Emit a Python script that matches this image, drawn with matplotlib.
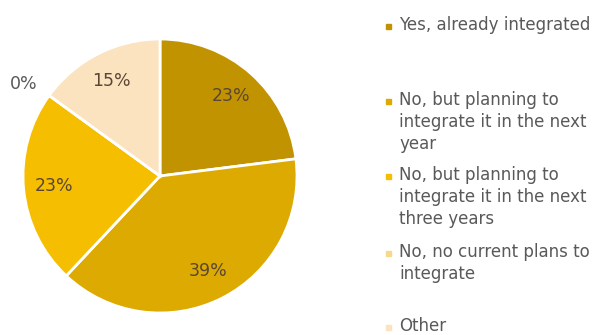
import numpy as np
import matplotlib
matplotlib.use('Agg')
import matplotlib.pyplot as plt
from matplotlib.patches import Rectangle

# data
labels = ['Yes, already integrated',
          'No, but planning to\nintegrate it in the next\nyear',
          'No, but planning to\nintegrate it in the next\nthree years',
          'No, no current plans to\nintegrate',
          'Other']
values = [23, 39, 23, 0, 15]
colors = ['#C29300', '#DCAA00', '#F6BE00', '#F8D98C', '#FBE3BF']

W, H = 605, 335
fig = plt.figure(figsize=(W / 100, H / 100), dpi=100)

# pie: center ~ (160,176) px, radius ~137 px
r_px = 137
cx, cy = 160, 176
ax = fig.add_axes([(cx - r_px) / W, (H - cy - r_px) / H, 2 * r_px / W, 2 * r_px / H])
wedges, _ = ax.pie(values, colors=colors, startangle=90, counterclock=False,
                   wedgeprops=dict(edgecolor='white', linewidth=2))
ax.set_xlim(-1, 1)
ax.set_ylim(-1, 1)
ax.set_aspect('equal')
ax.axis('off')

for w, v in zip(wedges, values):
    theta = np.deg2rad((w.theta1 + w.theta2) / 2)
    if v == 0:
        d = 1.2
        theta = np.deg2rad(w.theta1 + 2)
        col = '#595959'
    else:
        d = 0.78
        col = '#5a4636'
    ax.text(d * np.cos(theta), d * np.sin(theta), '%d%%' % v,
            ha='center', va='center', fontsize=12.5, color=col, clip_on=False)

# legend drawn by hand
text_x = 399 / W
mark_x = 386 / W
tops = [26, 101, 176, 253, 327]
for lab, c, y in zip(labels, colors, tops):
    fig.text(text_x, 1 - (y - 10) / H, lab, ha='left', va='top', fontsize=12,
             color='#595959', linespacing=1.3)
    fig.patches.append(Rectangle((mark_x, 1 - (y + 3) / H), 5 / W, 5 / H,
                                 transform=fig.transFigure, color=c))

fig.savefig('out.png', dpi=100)
